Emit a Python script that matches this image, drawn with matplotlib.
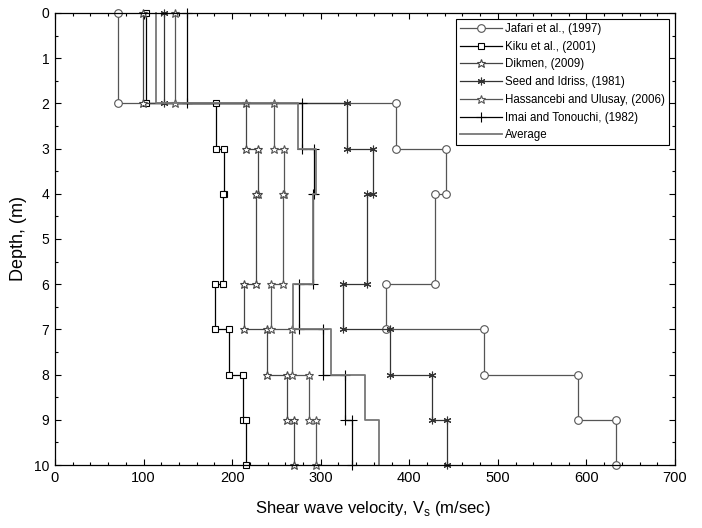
import matplotlib
matplotlib.use('Agg')
import matplotlib.pyplot as plt
from matplotlib.ticker import MultipleLocator

# Layer boundaries (m)
depth_bounds = [0, 2, 3, 4, 6, 7, 8, 9, 10]

# Shear wave velocity per layer (m/sec)
jafari = [71, 385, 441, 429, 374, 484, 591, 633]
kiku = [103, 182, 191, 190, 181, 197, 212, 216]
dikmen = [99, 216, 229, 227, 213, 239, 262, 270]
seed = [123, 330, 359, 352, 325, 378, 426, 443]
hassancebi = [136, 247, 259, 257, 244, 268, 287, 295]
imai = [149, 279, 293, 291, 276, 303, 327, 335]
average = [114, 274, 295, 291, 269, 312, 350, 366]

labels = ["Jafari et al., (1997)", "Kiku et al., (2001)", "Dikmen, (2009)",
          "Seed and Idriss, (1981)", "Hassancebi and Ulusay, (2006)",
          "Imai and Tonouchi, (1982)", "Average"]

x_ticks = [0, 100, 200, 300, 400, 500, 600, 700]
y_ticks = list(range(0, 11))

plt.rcParams['font.family'] = ['Liberation Sans', 'DejaVu Sans']


def step(vals):
    xs, ys = [], []
    for v, top, bot in zip(vals, depth_bounds[:-1], depth_bounds[1:]):
        xs += [v, v]
        ys += [top, bot]
    return xs, ys


fig = plt.figure(figsize=(7.02, 5.28), dpi=100)
ax = fig.add_axes([0.0783, 0.1193, 0.8832, 0.8561])

styles = [
    dict(color='#555555', marker='o', ms=5.5),
    dict(color='black', marker='s', ms=4.5),
    dict(color='#444444', marker='*', ms=6.3),
    dict(color='#333333', marker=(6, 2, 0), ms=5.5),
    dict(color='#555555', marker='*', ms=6.3),
    dict(color='black', marker='+', ms=7),
    dict(color='#777777', marker='None', ms=0),
]
series = [jafari, kiku, dikmen, seed, hassancebi, imai, average]

for vals, lab, st in zip(series, labels, styles):
    xs, ys = step(vals)
    lw = 1.3 if lab == "Average" else 0.9
    ax.plot(xs, ys, color=st['color'], lw=lw, marker=st['marker'], ms=st['ms'],
            mfc='white', mec=st['color'], mew=0.8, label=lab, clip_on=False)

ax.set_xlim(0, 700)
ax.set_ylim(10, 0)
ax.set_xticks(x_ticks)
ax.set_yticks(y_ticks)
ax.xaxis.set_minor_locator(MultipleLocator(20))
ax.yaxis.set_minor_locator(MultipleLocator(0.5))
ax.tick_params(which='both', direction='in', top=True, right=True, width=0.8)
ax.tick_params(which='major', length=4.5)
ax.tick_params(which='minor', length=2.3)
ax.tick_params(axis='x', labelsize=10.5, pad=4)
ax.tick_params(axis='y', labelsize=10, pad=4)
for s in ax.spines.values():
    s.set_linewidth(0.9)

ax.set_xlabel("Shear wave velocity, V$_\\mathregular{s}$ (m/sec)", fontsize=12)
ax.xaxis.set_label_coords(0.513, -0.075)
ax.set_ylabel("Depth, (m)", fontsize=13)
ax.yaxis.set_label_coords(-0.045, 0.5)

leg = ax.legend(loc='upper right', numpoints=1, handlelength=3.6, labelspacing=0.5,
                fancybox=False, framealpha=1, edgecolor='black', borderaxespad=0.5,
                prop={'size': 8.3}, handletextpad=0.3, borderpad=0.35)
leg.get_frame().set_linewidth(0.8)

fig.savefig('out.png', dpi=100)
